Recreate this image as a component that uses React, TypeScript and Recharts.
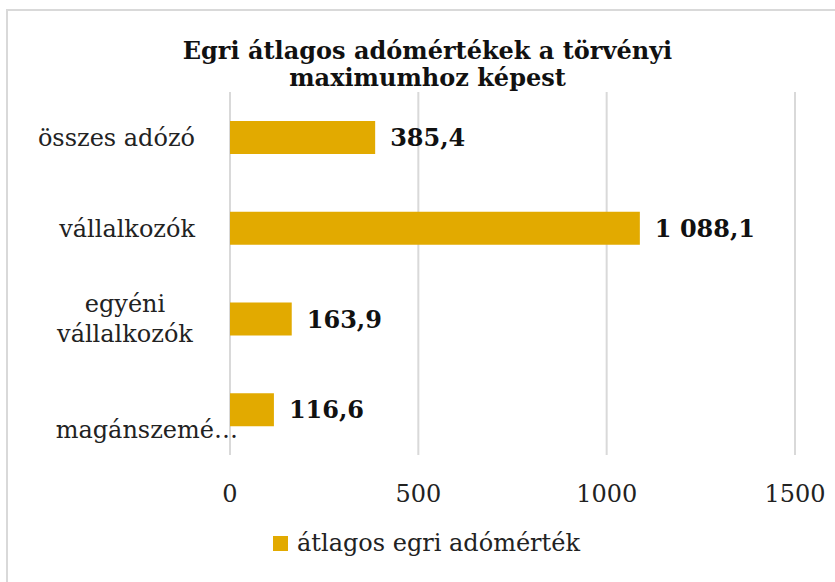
import { BarChart, Bar, XAxis, YAxis, CartesianGrid, LabelList } from "recharts";

const categories = ["összes adózó", "vállalkozók", "egyéni vállalkozók", "magánszemélyek"];
const tickLabels = [["összes adózó"], ["vállalkozók"], ["egyéni", "vállalkozók"], ["magánszemé…"]];
const values = [385.4, 1088.1, 163.9, 116.6];
const xTicks = [0, 500, 1000, 1500];
const seriesName = "átlagos egri adómérték";
const titleLines = ["Egri átlagos adómértékek a törvényi", "maximumhoz képest"];

const data = categories.map((name, i) => ({ name, value: values[i] }));

const FONT = "'DejaVu Serif', serif";
const GOLD = "#E2AA00";

// hungarian number format: 1 088,1
const formatHu = (v: any) => {
  const [intPart, dec] = Number(v).toFixed(1).split(".");
  return intPart.replace(/\B(?=(\d{3})+(?!\d))/g, " ") + "," + dec;
};

const CategoryTick = (props: any) => {
  const { x, y, payload } = props;
  const idx = categories.indexOf(payload.value);
  const lines = tickLabels[idx] || [payload.value];
  if (lines.length > 1) {
    return (
      <text x={x - 70} y={y} textAnchor="middle" fontFamily={FONT} fontSize={24} fill="#222">
        {lines.map((l, i) => (
          <tspan key={i} x={x - 70} y={y - 7 + i * 30}>{l}</tspan>
        ))}
      </text>
    );
  }
  // last label is the truncated one, Excel pushes it down and right
  const truncated = lines[0].endsWith("…");
  return (
    <text
      x={truncated ? x + 43 : x}
      y={truncated ? y + 28 : y + 9}
      textAnchor="end"
      fontFamily={FONT}
      fontSize={24}
      fill="#222"
    >
      {lines[0]}
    </text>
  );
};

export default function App() {
  return (
    <div style={{ position: "absolute", left: 0, top: 0, width: 835, height: 582, background: "#fff", fontFamily: FONT, overflow: "hidden" }}>
      <div style={{ position: "absolute", left: 6, top: 9, width: 829, height: 573, borderLeft: "2px solid #d9d9d9", borderTop: "2px solid #d9d9d9" }} />
      <div
        style={{
          position: "absolute",
          left: 20,
          top: 37,
          width: 815,
          textAlign: "center",
          fontWeight: "bold",
          fontSize: 24,
          lineHeight: "27px",
          color: "#111",
        }}
      >
        {titleLines.map((t, i) => (
          <div key={i}>{t}</div>
        ))}
      </div>
      <div style={{ position: "absolute", left: 0, top: 0 }}>
        <BarChart
          width={835}
          height={582}
          data={data}
          layout="vertical"
          margin={{ top: 92, right: 40, bottom: 87, left: 30 }}
          barCategoryGap={0}
        >
          <CartesianGrid horizontal={false} vertical={true} stroke="#d9d9d9" strokeWidth={2} />
          <XAxis
            type="number"
            domain={[0, 1500]}
            ticks={xTicks}
            axisLine={false}
            tickLine={false}
            tickSize={0}
            tickMargin={30}
            height={40}
            tick={{ fontFamily: FONT, fontSize: 24, fill: "#222" }}
            interval={0}
          />
          <YAxis
            type="category"
            dataKey="name"
            width={200}
            axisLine={false}
            tickLine={false}
            tickSize={0}
            tickMargin={35}
            tick={<CategoryTick />}
            interval={0}
          />
          <Bar dataKey="value" name={seriesName} fill={GOLD} barSize={33} isAnimationActive={false}>
            <LabelList
              dataKey="value"
              position="right"
              offset={15}
              formatter={formatHu}
              style={{ fontFamily: FONT, fontSize: 24, fontWeight: "bold", fill: "#111" }}
            />
          </Bar>
        </BarChart>
      </div>
      <div style={{ position: "absolute", left: 273, top: 529, display: "flex", alignItems: "center", fontSize: 24, color: "#222" }}>
        <span style={{ display: "inline-block", width: 15, height: 15, background: GOLD, marginRight: 9 }} />
        <span>{seriesName}</span>
      </div>
    </div>
  );
}
